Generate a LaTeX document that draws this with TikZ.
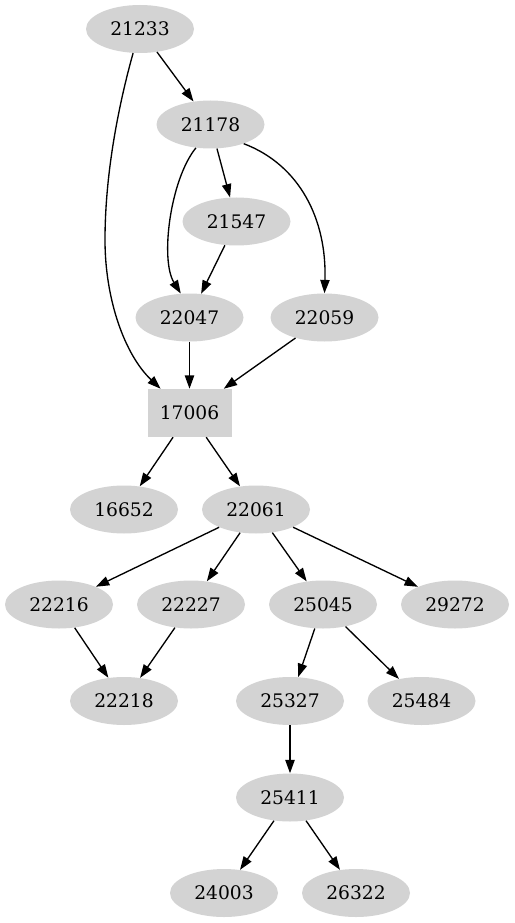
\documentclass[tikz,border=0pt]{standalone}
\usepackage{fontspec}
\setmainfont{DejaVu Serif}
\usetikzlibrary{shapes.geometric,arrows.meta}
\definecolor{gvgray}{HTML}{D3D3D3}
\tikzset{
  gnode/.style={ellipse, fill=gvgray, inner sep=0pt, minimum width=81pt, minimum height=36pt,
    font=\fontsize{14pt}{16pt}\selectfont},
  gbox/.style={rectangle, fill=gvgray, inner sep=0pt, minimum width=63pt, minimum height=36pt,
    font=\fontsize{14pt}{16pt}\selectfont},
  link/.style={draw=black, line width=1pt, -{Triangle[length=10pt,width=7pt]}}
}
\begin{document}
\begin{tikzpicture}[x=0.75pt,y=-0.75pt]
\useasboundingbox (0,0) rectangle (514,923);
\node[gnode] (n21233) at (140,29) {21233};
\node[gnode] (n21178) at (210.5,124.5) {21178};
\node[gnode] (n21547) at (236.5,221.5) {21547};
\node[gnode] (n22047) at (189.5,317.5) {22047};
\node[gnode] (n22059) at (324.5,317.5) {22059};
\node[gbox]  (n17006) at (189.5,413) {17006};
\node[gnode] (n16652) at (124,509.5) {16652};
\node[gnode] (n22061) at (256,509.5) {22061};
\node[gnode] (n22216) at (59,604.5) {22216};
\node[gnode] (n22227) at (191,604.5) {22227};
\node[gnode] (n25045) at (323,604.5) {25045};
\node[gnode] (n29272) at (455,604.5) {29272};
\node[gnode] (n22218) at (124,701) {22218};
\node[gnode] (n25327) at (290,701) {25327};
\node[gnode] (n25484) at (421.5,701) {25484};
\node[gnode] (n25411) at (290,797.5) {25411};
\node[gnode] (n24003) at (224,893) {24003};
\node[gnode] (n26322) at (356,893) {26322};

\path[link] (n21233) -- (n21178);
\path[link] (n21233.254) .. controls (120,100) and (105,170) .. (105,240)
  .. controls (105,300) and (125,355) .. (n17006.140);
\path[link] (n21178) -- (n21547);
\path[link] (n21178.238) .. controls (170,180) and (160,260) .. (n22047.110);
\path[link] (n21178.330) .. controls (300,165) and (327,220) .. (n22059.north);
\path[link] (n21547) -- (n22047);
\path[link] (n22047) -- (n17006);
\path[link] (n22059) -- (n17006);
\path[link] (n17006) -- (n16652);
\path[link] (n17006) -- (n22061);
\path[link] (n22061) -- (n22216);
\path[link] (n22061) -- (n22227);
\path[link] (n22061) -- (n25045);
\path[link] (n22061) -- (n29272);
\path[link] (n22216) -- (n22218);
\path[link] (n22227) -- (n22218);
\path[link] (n25045) -- (n25327);
\path[link] (n25045) -- (n25484);
\path[link] (n25327) -- (n25411);
\path[link] (n25411) -- (n24003);
\path[link] (n25411) -- (n26322);
\end{tikzpicture}
\end{document}
